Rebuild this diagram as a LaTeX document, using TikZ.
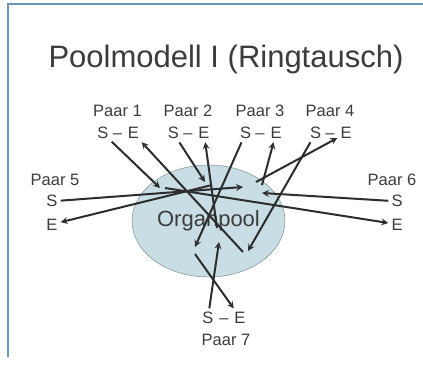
\documentclass[tikz,border=0pt]{standalone}
\usepackage{fontspec}
\setmainfont{Liberation Sans}
\usetikzlibrary{shapes.geometric, arrows}
\definecolor{framecol}{RGB}{105,150,190}
\definecolor{poolfill}{RGB}{200,222,228}
\definecolor{poolline}{RGB}{110,125,130}
\definecolor{ink}{RGB}{45,45,45}
\definecolor{textcol}{RGB}{60,60,60}
\tikzstyle{transfer} = [line width=2pt, draw=ink, ->, >=stealth]
\tikzstyle{lbl} = [text=textcol, font=\fontsize{16.5}{18}\selectfont, inner sep=3pt, anchor=base]

\begin{document}
\begin{tikzpicture}[x=1pt, y=-1pt]
        \useasboundingbox (0,0) rectangle (423,366);

        % Frame
        \draw[framecol, line width=2pt] (423,4) -- (8,4) -- (8,357);

        % Title
        \node[text=textcol, anchor=base, font=\fontsize{31}{36}\selectfont] (title) at (226,68) {Poolmodell I (Ringtausch)};

        % Pool
        \node[ellipse, draw=poolline, fill=poolfill, minimum width=153pt, minimum height=112pt,
              inner sep=0pt, text=textcol, font=\fontsize{22}{26}\selectfont] (pool) at (208.5,221) {Organpool};

        % Pairs on top
        \foreach \n/\x in {1/117.5, 2/188, 3/260, 4/330} {
          \node[lbl] (paar\n) at (\x,117) {Paar \n};
          \node[lbl] (s\n) at (\x-14.5,139) {S};
          \node[lbl] (dash\n) at (\x,139) {–};
          \node[lbl] (e\n) at (\x+16,139) {E};
        }

        % Pairs at the sides
        \foreach \n/\x/\c in {5/52/55, 6/397/392} {
          \node[lbl] (paar\n) at (\c,186) {Paar \n};
          \node[lbl] (s\n) at (\x,207) {S};
          \node[lbl] (e\n) at (\x,230) {E};
        }

        % Pair below
        \node[lbl] (s7) at (208,323) {S};
        \node[lbl] (dash7) at (224,323) {–};
        \node[lbl] (e7) at (240,323) {E};
        \node[lbl] (paar7) at (226,345) {Paar 7};

        % Ends in the pool (in = donor organ, out = organ for recipient)
        \foreach \n/\ix/\iy/\ox/\oy in {
          1/160/188/243/252,
          2/205/182/217/228,
          3/195/247/262/185,
          4/248/251/256/182,
          5/243/187/212/185,
          6/262/193/165/188,
          7/219/242/195/254
        }{
          \coordinate (in\n) at (\ix,\iy);
          \coordinate (out\n) at (\ox,\oy);
          \draw[transfer] (s\n) -- (in\n);
          \draw[transfer] (out\n) -- (e\n);
        }
\end{tikzpicture}
\end{document}
